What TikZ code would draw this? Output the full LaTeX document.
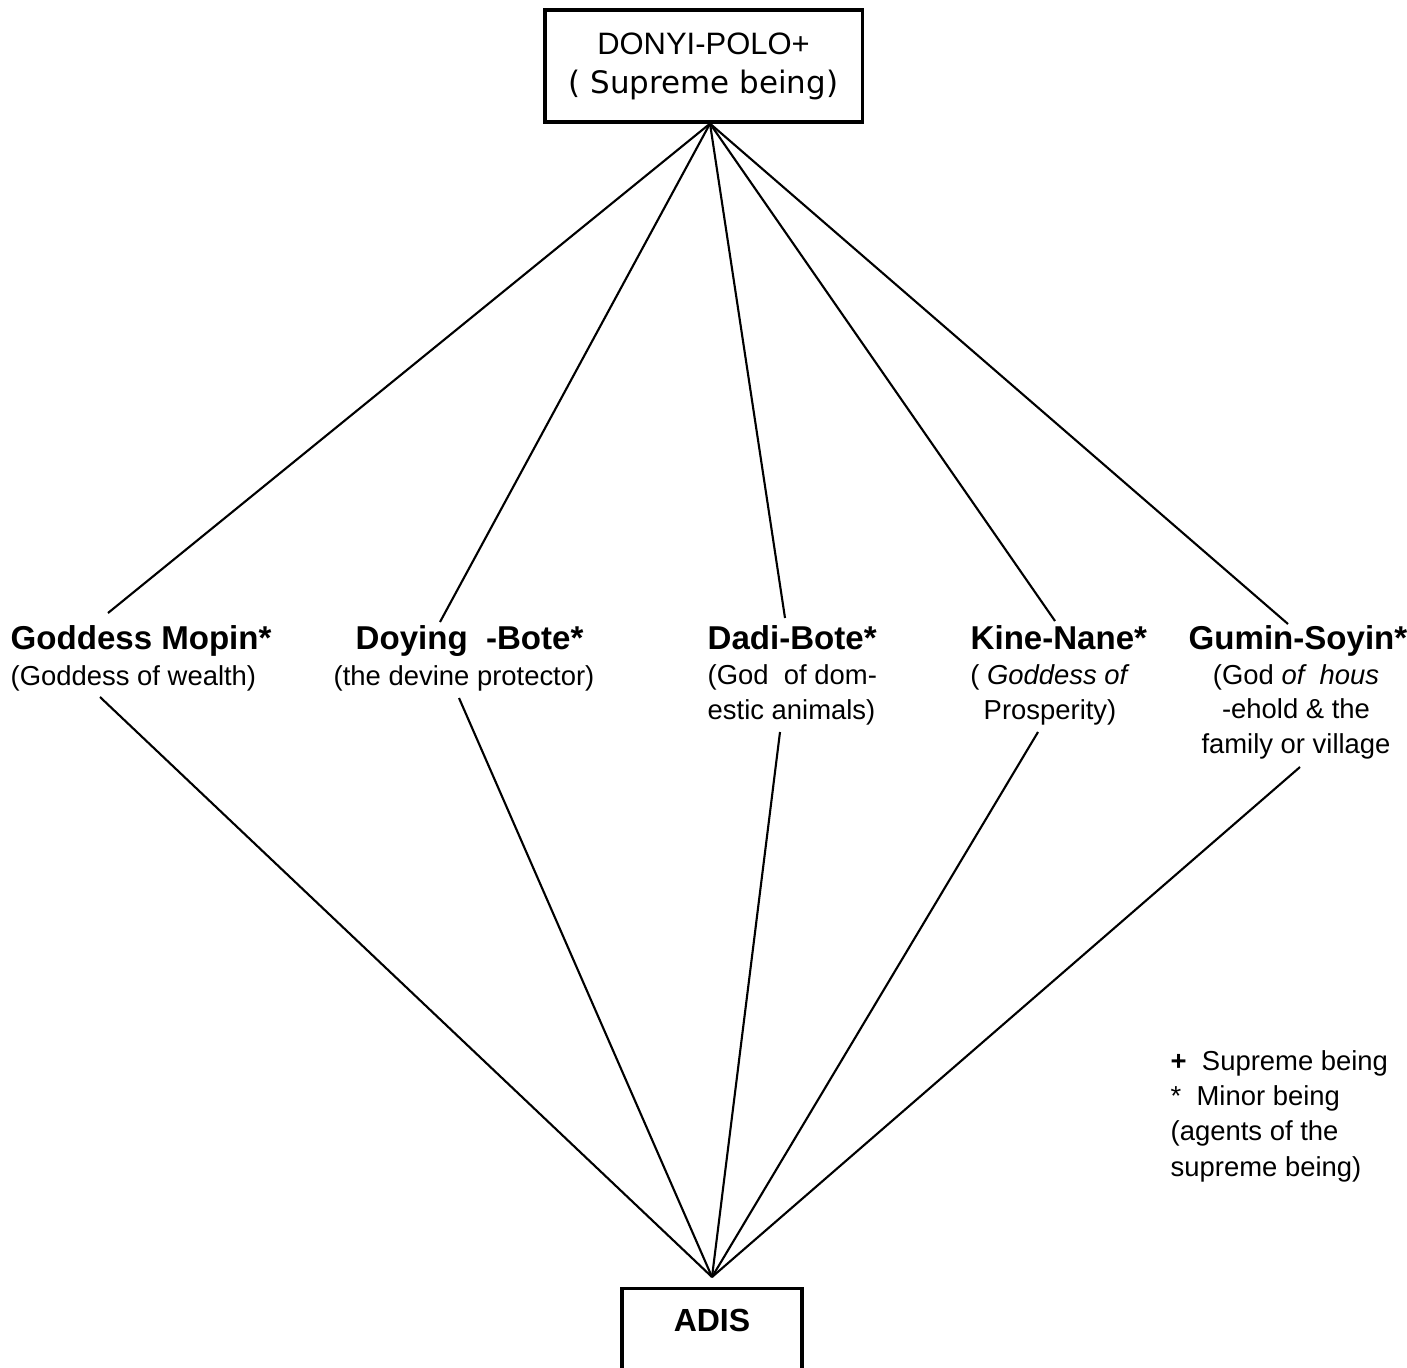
\documentclass[tikz,border=0pt]{standalone}
\usepackage{fontspec}
\setmainfont{Liberation Sans}
\newfontfamily\dejavu{DejaVu Sans}
\usepackage{tikz}
\usetikzlibrary{positioning}

\begin{document}
\begin{tikzpicture}[x=0.01cm, y=-0.01cm]
%styles : cadres, noms des divinites, descriptions
\tikzset{cadre/.style={draw, line width=0.9pt, inner sep=0pt},
  titre/.style={font=\fontsize{9.4}{11}\selectfont\bfseries, inner sep=0pt, anchor=base west},
  legende/.style={font=\fontsize{7.8}{9.7}\selectfont, inner sep=0pt, anchor=base west},
  lien/.style={line width=0.6pt}}
\useasboundingbox (0,0) rectangle (1407,1367);

\node[cadre, minimum width=3.17cm, minimum height=1.12cm, align=center, text depth=0.05cm,
  font=\fontsize{8.8}{11}\selectfont] (donyi) at (703.5,66) {DONYI-POLO+\\{\dejavu ( Supreme being)}};
\node[cadre, minimum width=1.8cm, minimum height=1cm, anchor=north, text depth=0.36cm,
  font=\fontsize{9.1}{11}\selectfont\bfseries] (adis) at (712,1287) {ADIS};

%les divinites mineures
\node[titre] (mopin) at (10,649) {Goddess Mopin*};
\node[titre] (doying) at (355,649) {Doying\ \ -Bote*};
\node[titre] (dadi) at (707,649) {Dadi-Bote*};
\node[titre] (kine) at (970,649) {Kine-Nane*};
\node[titre] (gumin) at (1188,649) {Gumin-Soyin*};

%ancre base = derniere ligne
\node[legende] (mopin-d) at (10,685) {(Goddess of wealth)};
\node[legende] (doying-d) at (333,685) {(the devine protector)};
\node[legende, align=left] (dadi-d) at (707,719) {(God\ \ of dom-\\estic animals)};
\node[legende, align=center, anchor=base] (kine-d) at (1050,719) {( \textit{Goddess of}\\Prosperity)};
\node[legende, align=center, anchor=base] (gumin-d) at (1296,753) {(God \textit{of\ \ hous}\\-ehold \& the\\family or village};

\node[legende, align=left, font=\fontsize{7.8}{10}\selectfont] (notes) at (1170,1176)
  {\textbf{+}\ \ Supreme being\\*\ \ Minor being\\(agents of the\\supreme being)};

%points de convergence des traits
\coordinate (haut) at ([xshift=0.065cm]donyi.south);
\coordinate (bas) at ([yshift=0.1cm]adis.north);
\foreach \n/\xh/\yh/\xb/\yb in {mopin/108/613/100/697, doying/440/622/459/698,
  dadi/785/618/780/732, kine/1055/621/1038/732, gumin/1288/624/1300/767}{
  \coordinate (\n-h) at (\xh,\yh);
  \coordinate (\n-b) at (\xb,\yb);
  \draw[lien] (haut) -- (\n-h);
  \draw[lien] (\n-b) -- (bas);
}
\end{tikzpicture}
\end{document}
